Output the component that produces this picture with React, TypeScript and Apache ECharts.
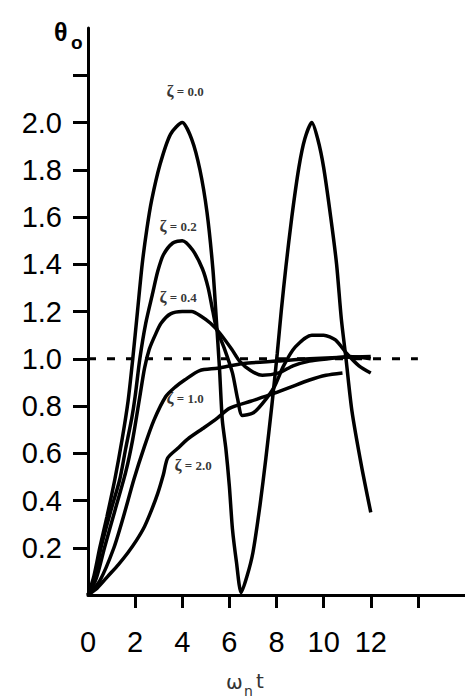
import React, { useEffect, useRef } from "react";
import * as echarts from "echarts";

// ---- data (x = ωn·t, y = θo) ----
const zeta00: number[][] = [
  [0, 0], [0.25, 0.08], [0.5, 0.2], [0.8, 0.33], [1.14, 0.49], [1.45, 0.66], [1.7, 0.82],
  [1.9, 1.0], [2.1, 1.2], [2.3, 1.4], [2.5, 1.55], [2.7, 1.67], [3.05, 1.82], [3.5, 1.95],
  [4.0, 2.0], [4.4, 1.93], [4.75, 1.8], [5.05, 1.62], [5.3, 1.38], [5.45, 1.16], [5.58, 0.96],
  [5.7, 0.74], [5.85, 0.62], [6.0, 0.46], [6.13, 0.28], [6.3, 0.14], [6.5, 0.01], [6.75, 0.08],
  [7.0, 0.18], [7.3, 0.38], [7.55, 0.58], [7.8, 0.8], [8.03, 1.02], [8.2, 1.2], [8.4, 1.39],
  [8.65, 1.6], [8.95, 1.81], [9.2, 1.93], [9.5, 2.0], [9.75, 1.93], [10.0, 1.81], [10.3, 1.6],
  [10.55, 1.4], [10.75, 1.17], [10.95, 1.0], [11.2, 0.78], [11.6, 0.55], [12.0, 0.35],
];
const zeta02: number[][] = [
  [0, 0], [0.3, 0.08], [0.55, 0.2], [0.95, 0.35], [1.35, 0.49], [1.6, 0.62], [1.86, 0.75],
  [2.0, 0.84], [2.2, 1.0], [2.45, 1.15], [2.75, 1.28], [2.96, 1.37], [3.2, 1.44], [3.6, 1.49],
  [4.0, 1.5], [4.44, 1.46], [4.86, 1.38], [5.1, 1.3], [5.3, 1.2], [5.45, 1.13], [5.8, 1.04],
  [6.13, 0.94], [6.35, 0.83], [6.55, 0.76], [7.0, 0.77], [7.4, 0.81], [7.9, 0.88], [8.3, 0.97],
  [8.8, 1.05], [9.5, 1.1], [10.0, 1.1], [10.5, 1.08], [11.0, 1.02], [11.5, 0.97], [12.0, 0.94],
];
const zeta04: number[][] = [
  [0, 0], [0.35, 0.07], [0.7, 0.2], [1.15, 0.36], [1.6, 0.52], [1.9, 0.66], [2.2, 0.84],
  [2.4, 0.96], [2.6, 1.04], [2.85, 1.1], [3.1, 1.15], [3.5, 1.19], [4.0, 1.2], [4.4, 1.2],
  [4.8, 1.18], [5.2, 1.15], [5.58, 1.11], [6.1, 1.04], [6.43, 0.99], [6.9, 0.95], [7.4, 0.93],
  [8.1, 0.94], [8.7, 0.97], [9.4, 0.99], [10.2, 1.0], [11.1, 1.01], [12.0, 1.0],
];
const zeta10: number[][] = [
  [0, 0], [0.5, 0.06], [1.1, 0.2], [1.5, 0.33], [1.95, 0.49], [2.4, 0.63], [2.8, 0.74],
  [3.3, 0.84], [3.7, 0.88], [4.1, 0.91], [4.74, 0.95], [5.5, 0.96], [6.6, 0.98], [8.0, 0.99],
  [9.4, 1.0], [12.0, 1.01],
];
const zeta20: number[][] = [
  [0, 0], [0.4, 0.03], [0.85, 0.08], [1.3, 0.13], [1.7, 0.18], [2.05, 0.23], [2.4, 0.29],
  [2.7, 0.36], [2.96, 0.43], [3.2, 0.51], [3.38, 0.58], [3.8, 0.62], [4.23, 0.66], [4.95, 0.71],
  [5.5, 0.75], [6.0, 0.79], [6.9, 0.82], [7.8, 0.85], [8.6, 0.88], [9.4, 0.91], [10.1, 0.93],
  [10.8, 0.94],
];
const steadyState: number[][] = [[0, 1], [14, 1]];

const curveNames = ["ζ = 0.0", "ζ = 0.2", "ζ = 0.4", "ζ = 1.0", "ζ = 2.0"];
const curveValues = ["0.0", "0.2", "0.4", "1.0", "2.0"];
const curveData = [zeta00, zeta02, zeta04, zeta10, zeta20];
// anchor of each damping label, in data units
const labelAnchors: number[][] = [[4.12, 2.13], [3.82, 1.56], [3.82, 1.26], [4.12, 0.83], [4.46, 0.55]];

const xTickValues = [2, 4, 6, 8, 10, 12, 14];
const xLabelValues = [0, 2, 4, 6, 8, 10, 12];
const yTickValues = [0.2, 0.4, 0.6, 0.8, 1.0, 1.2, 1.4, 1.6, 1.8, 2.0, 2.2];
const yLabelValues = [0.2, 0.4, 0.6, 0.8, 1.0, 1.2, 1.4, 1.6, 1.8, 2.0];

export default function App() {
  const ref = useRef<HTMLDivElement>(null);
  useEffect(() => {
    document.body.style.margin = "0";
    const chart = echarts.init(ref.current!, undefined, { renderer: "svg" });
    const sans = "'Liberation Sans', Arial, sans-serif";
    const serif = "'Liberation Serif', 'Times New Roman', serif";
    const lineSeries = curveData.map((d, i) => ({
      name: curveNames[i],
      type: "line",
      data: d,
      smooth: 0.25,
      symbol: "none",
      clip: false,
      lineStyle: { color: "#000", width: 3.5 },
      z: 3,
    }));
    const option: any = {
      animation: false,
      backgroundColor: "#fff",
      grid: { left: 88, right: 0, top: 28, bottom: 105 },
      xAxis: {
        type: "value",
        min: 0,
        max: 16,
        interval: 2,
        axisLine: { show: true, onZero: false, lineStyle: { color: "#000", width: 3 } },
        axisTick: {
          show: true,
          length: 13,
          customValues: xTickValues,
          lineStyle: { color: "#000", width: 3 },
        },
        axisLabel: {
          customValues: xLabelValues,
          margin: 32,
          fontSize: 29,
          color: "#000",
          fontFamily: sans,
        },
        splitLine: { show: false },
      },
      yAxis: {
        type: "value",
        min: 0,
        max: 2.4,
        interval: 0.2,
        axisLine: { show: true, onZero: false, lineStyle: { color: "#000", width: 3 } },
        axisTick: {
          show: true,
          length: 15,
          customValues: yTickValues,
          lineStyle: { color: "#000", width: 3 },
        },
        axisLabel: {
          customValues: yLabelValues,
          margin: 26,
          fontSize: 29,
          color: "#000",
          fontFamily: sans,
          formatter: (v: number) => v.toFixed(1),
        },
        splitLine: { show: false },
      },
      series: [
        ...lineSeries,
        {
          name: "steady",
          type: "line",
          data: steadyState,
          symbol: "none",
          lineStyle: { color: "#000", width: 3, type: [8, 11] },
          z: 2,
        },
        {
          name: "labels",
          type: "scatter",
          symbolSize: 1,
          itemStyle: { color: "rgba(0,0,0,0)" },
          data: labelAnchors.map((p, i) => ({ value: p, name: curveNames[i] })),
          label: {
            show: true,
            position: "inside",
            formatter: (p: any) => `{z|ζ} {v|= ${curveValues[p.dataIndex]}}`,
            rich: {
              z: { fontSize: 17, fontWeight: "bold", fontFamily: serif, color: "#000" },
              v: { fontSize: 13, fontWeight: "bold", fontFamily: serif, color: "#000" },
            },
          },
          z: 5,
        },
      ],
      graphic: [
        { type: "text", left: 54, top: 19, style: { text: "θ", fontSize: 25, fontWeight: "bold", fill: "#000", fontFamily: sans } },
        { type: "text", left: 71, top: 33, style: { text: "o", fontSize: 19, fontWeight: "bold", fill: "#000", fontFamily: sans } },
        { type: "text", left: 226, top: 672, style: { text: "ω", fontSize: 20, fill: "#333", fontFamily: "'DejaVu Sans', sans-serif" } },
        { type: "text", left: 244, top: 684, style: { text: "n", fontSize: 14, fill: "#333", fontFamily: "'DejaVu Sans', sans-serif" } },
        { type: "text", left: 256, top: 671, style: { text: "t", fontSize: 20, fill: "#333", fontFamily: "'DejaVu Sans', sans-serif" } },
      ],
    };
    chart.setOption(option);
    return () => chart.dispose();
  }, []);
  return <div ref={ref} style={{ width: 465, height: 700 }} />;
}
